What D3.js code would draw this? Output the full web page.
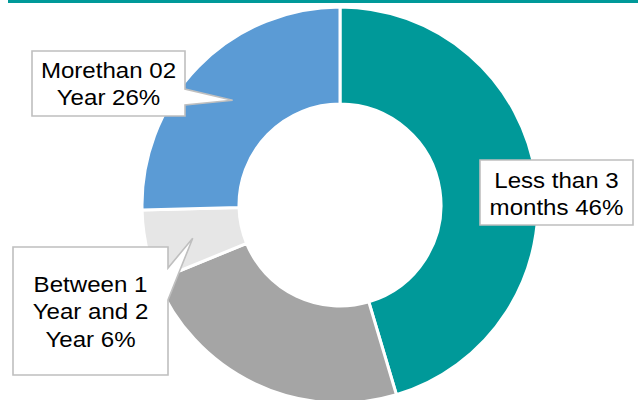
<!DOCTYPE html>
<html>
<head>
<meta charset="utf-8">
<script src="https://cdn.jsdelivr.net/npm/d3@7"></script>
<style>
  html, body { margin: 0; padding: 0; background: #ffffff; }
  svg { display: block; }
</style>
</head>
<body>
<svg id="chart" width="638" height="400"></svg>
<script>
// Data (slice order clockwise from 12 o'clock)
const categories = ["Less than 3 months", "Between 3 months and 1 Year", "Between 1 Year and 2 Year", "Morethan 02 Year"];
const values = [45.4, 23.4, 5.8, 25.4];
const colors = ["#009999", "#A5A5A5", "#E6E6E6", "#5B9BD5"];
// Callout label text (as displayed)
const labelLines = [
  ["Less than 3", "months 46%"],
  null,
  ["Between 1", "Year and 2", "Year 6%"],
  ["Morethan 02", "Year 26%"]
];

const svg = d3.select("#chart");
const W = 638, H = 400;

// top rule
svg.append("rect").attr("x", 8).attr("y", 0).attr("width", W - 8).attr("height", 3).attr("fill", "#009999");

const cx = 340, cy = 205, rOuter = 198, rInner = 101;
const pie = d3.pie().sort(null).value(d => d.value).startAngle(0).endAngle(2 * Math.PI);
const arc = d3.arc().innerRadius(rInner).outerRadius(rOuter);
const data = categories.map((c, i) => ({ cat: c, value: values[i], color: colors[i], lines: labelLines[i] }));
const arcs = pie(data);

const g = svg.append("g").attr("transform", `translate(${cx},${cy})`);
g.selectAll("path.slice").data(arcs).enter().append("path")
  .attr("class", "slice")
  .attr("d", arc)
  .attr("fill", d => d.data.color)
  .attr("stroke", "#ffffff")
  .attr("stroke-width", 3)
  .attr("stroke-linejoin", "miter");

// Callouts: box + optional pointer. Pointer tip placed inside the slice at a given radius / angle fraction.
const callouts = [
  { idx: 0, box: [480, 160, 153, 65], baseline0: 188, pointer: null },
  { idx: 2, box: [13, 247, 155, 128], baseline0: 292, pointer: { y0: 268, y1: 300, tipR: 151, tipFrac: 0.46 } },
  { idx: 3, box: [32, 51, 153, 65], baseline0: 78, pointer: { y0: 89, y1: 105, tipR: 150, tipFrac: 0.5 } }
];

const lineGap = 27.5;
callouts.forEach(c => {
  const a = arcs[c.idx];
  const [bx, by, bw, bh] = c.box;
  let pathD;
  if (c.pointer) {
    const ang = a.startAngle + (a.endAngle - a.startAngle) * c.pointer.tipFrac;
    const tx = cx + c.pointer.tipR * Math.sin(ang);
    const ty = cy - c.pointer.tipR * Math.cos(ang);
    const rx = bx + bw;
    pathD = `M${bx},${by} L${rx},${by} L${rx},${c.pointer.y0} L${tx},${ty} L${rx},${c.pointer.y1} L${rx},${by + bh} L${bx},${by + bh} Z`;
  } else {
    pathD = `M${bx},${by} L${bx + bw},${by} L${bx + bw},${by + bh} L${bx},${by + bh} Z`;
  }
  svg.append("path").attr("d", pathD)
    .attr("fill", "#ffffff").attr("stroke", "#BFBFBF").attr("stroke-width", 1.6)
    .attr("stroke-linejoin", "miter");
  const tg = svg.append("g").attr("transform", `translate(${bx + bw / 2},0) scale(1.07,1)`);
  a.data.lines.forEach((ln, i) => {
    tg.append("text")
      .attr("x", 0).attr("y", c.baseline0 + i * lineGap)
      .attr("text-anchor", "middle")
      .attr("font-family", "'Liberation Sans', Arial, sans-serif")
      .attr("font-size", 22.5)
      .attr("fill", "#000000")
      .text(ln);
  });
});
</script>
</body>
</html>
